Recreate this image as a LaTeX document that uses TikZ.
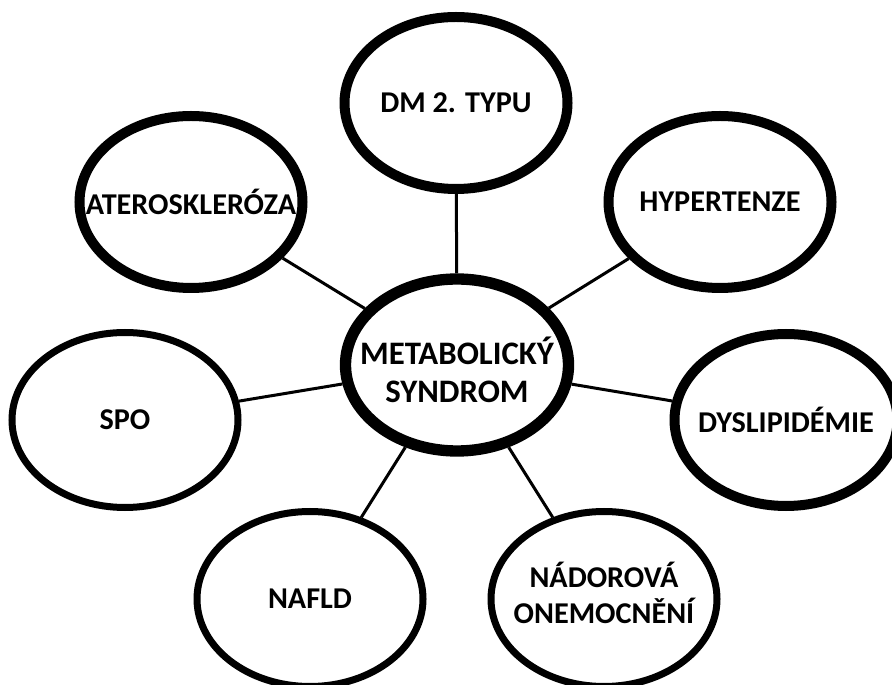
\documentclass[tikz,border=0pt]{standalone}
\usepackage{fontspec}
\setmainfont{Carlito}
\usepackage{tikz}
\usetikzlibrary{positioning, calc}
\usetikzlibrary{shapes}

\begin{document}
\begin{tikzpicture}[draw=black!100]
	\def \rowtop{17.43cm}
	\def \rowtwoht{14.46cm}
	\def \rowoneht{9.57cm}
	\def \rowside{7.92cm}
	\def \basement{2.55cm}
	\tikzstyle{bubble}=[ellipse,draw,line width=0.3cm,minimum width=6.69cm,minimum height=5.16cm]
	\tikzstyle{thin-bubble}=[bubble,line width=0.21cm,minimum width=6.78cm,minimum height=5.25cm]
	\tikzstyle{tag}=[font=\bfseries\fontsize{25.8}{31}\selectfont,align=center]
	\tikzstyle{big-tag}=[tag,font=\bfseries\fontsize{28}{33}\selectfont]
	\tikzstyle{link}=[line width=0.09cm]
	\useasboundingbox (0,0) rectangle (26.76,20.52);

	% middle
	\node[bubble,line width=0.34cm,label={[big-tag,yshift=-0.15cm]center:{METABOLICKÝ\\SYNDROM}}] (mets) at (13.71cm,\rowoneht) {};

	% upper ring
	\node[bubble,label={[tag]center:DM 2. TYPU}] (dm) at (13.68cm,\rowtop) {};
	\node[bubble,label={[tag]center:ATEROSKLERÓZA}] (atero) at (5.73cm,\rowtwoht) {};
	\node[bubble,label={[tag]center:HYPERTENZE}] (hyper) at (21.6cm,\rowtwoht) {};

	% sides
	\node[thin-bubble,label={[tag]center:SPO}] (spo) at (3.75cm,\rowside) {};
	\node[bubble,label={[tag]center:DYSLIPIDÉMIE}] (dys) at (23.58cm,\rowside) {};

	% lower ring
	\node[thin-bubble,label={[tag]center:NAFLD}] (nafld) at (9.3cm,\basement) {};
	\node[thin-bubble,label={[tag,yshift=0.18cm]center:{NÁDOROVÁ\\ONEMOCNĚNÍ}}] (nador) at (18.12cm,\basement) {};

	\path[link]
		(mets)	edge	(dm)
		(mets)	edge	(atero)
		(mets)	edge	(hyper)
		%
		(mets)	edge	(spo)
		(mets)	edge	(dys)
		%
		(mets)	edge	(nafld)
		(mets)	edge	(nador);

\end{tikzpicture}
\end{document}
